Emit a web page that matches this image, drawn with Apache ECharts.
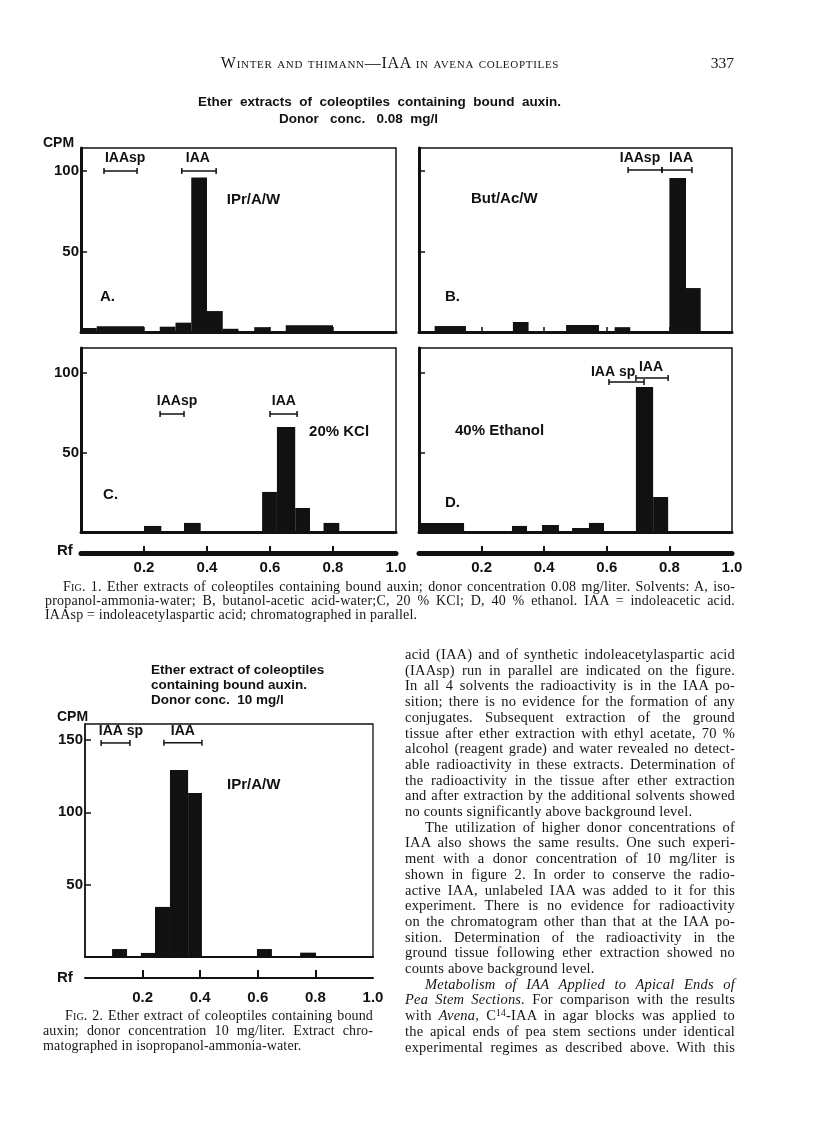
<!DOCTYPE html>
<html><head><meta charset="utf-8">
<script src="https://cdn.jsdelivr.net/npm/echarts@6/dist/echarts.min.js"></script>
<style>
html,body{margin:0;padding:0;background:#fff;}
#page{position:relative;width:816px;height:1127px;overflow:hidden;background:#fff;}
#chart{position:absolute;left:0;top:0;width:816px;height:1127px;}
.txt{position:absolute;font-family:"Liberation Serif","DejaVu Serif",serif;color:#151515;}
.ln{text-align:justify;text-align-last:justify;}
.ln.end{text-align-last:left;}
.sc{font-variant:small-caps;}
.ind{text-indent:20px;}
sup{font-size:9.5px;line-height:0;vertical-align:4px;}
</style></head><body>
<div id="page">
<div id="chart"></div>

<div class="txt sc" style="left:190px;top:53px;width:400px;text-align:center;font-size:16px;letter-spacing:0.7px;line-height:20px;">Winter and thimann—IAA in avena coleoptiles</div>
<div class="txt" style="left:700px;top:54px;width:34px;text-align:right;font-size:15.5px;line-height:18px;">337</div>

<div class="txt" style="left:45px;top:580px;width:690px;font-size:14px;line-height:14px;letter-spacing:0.2px;">
<div class="ln" style="text-indent:18px;"><span class="sc">Fig.</span> 1. Ether extracts of coleoptiles containing bound auxin; donor concentration 0.08 mg/liter. Solvents: A, iso-</div>
<div class="ln">propanol-ammonia-water; B, butanol-acetic acid-water;C, 20 % KCl; D, 40 % ethanol. IAA = indoleacetic acid.</div>
<div class="ln end">IAAsp = indoleacetylaspartic acid; chromatographed in parallel.</div>
</div>

<div class="txt" style="left:43px;top:1008px;width:330px;font-size:14px;line-height:15px;letter-spacing:0.15px;">
<div class="ln" style="text-indent:22px;"><span class="sc">Fig.</span> 2. Ether extract of coleoptiles containing bound</div>
<div class="ln">auxin; donor concentration 10 mg/liter. Extract chro-</div>
<div class="ln end">matographed in isopropanol-ammonia-water.</div>
</div>

<div class="txt" style="left:405px;top:647px;width:330px;font-size:14.5px;line-height:15.7px;letter-spacing:0.2px;">
<div class="ln">acid (IAA) and of synthetic indoleacetylaspartic acid</div>
<div class="ln">(IAAsp) run in parallel are indicated on the figure.</div>
<div class="ln">In all 4 solvents the radioactivity is in the IAA po-</div>
<div class="ln">sition; there is no evidence for the formation of any</div>
<div class="ln">conjugates. Subsequent extraction of the ground</div>
<div class="ln">tissue after ether extraction with ethyl acetate, 70 %</div>
<div class="ln">alcohol (reagent grade) and water revealed no detect-</div>
<div class="ln">able radioactivity in these extracts. Determination of</div>
<div class="ln">the radioactivity in the tissue after ether extraction</div>
<div class="ln">and after extraction by the additional solvents showed</div>
<div class="ln end">no counts significantly above background level.</div>
<div class="ln ind">The utilization of higher donor concentrations of</div>
<div class="ln">IAA also shows the same results. One such experi-</div>
<div class="ln">ment with a donor concentration of 10 mg/liter is</div>
<div class="ln">shown in figure 2. In order to conserve the radio-</div>
<div class="ln">active IAA, unlabeled IAA was added to it for this</div>
<div class="ln">experiment. There is no evidence for radioactivity</div>
<div class="ln">on the chromatogram other than that at the IAA po-</div>
<div class="ln">sition. Determination of the radioactivity in the</div>
<div class="ln">ground tissue following ether extraction showed no</div>
<div class="ln end">counts above background level.</div>
<div class="ln ind"><i>Metabolism of IAA Applied to Apical Ends of</i></div>
<div class="ln"><i>Pea Stem Sections.</i> For comparison with the results</div>
<div class="ln">with <i>Avena,</i> C<sup>14</sup>-IAA in agar blocks was applied to</div>
<div class="ln">the apical ends of pea stem sections under identical</div>
<div class="ln">experimental regimes as described above. With this</div>
</div>
</div>

<script>
// ---------- data ----------
// tick values
const rfTicks = [0.2, 0.4, 0.6, 0.8];
const rfLabels = [0.2, 0.4, 0.6, 0.8, 1.0];
const cpmTicksFig1 = [50, 100];
const cpmTicksFig2 = [50, 100, 150];

// histogram bars: [Rf start, Rf end, CPM]
const barsA = [[0,0.05,2.5],[0.05,0.2,3.5],[0.25,0.3,3.3],[0.3,0.35,5.8],[0.35,0.4,96],[0.4,0.45,13],[0.45,0.5,2],[0.55,0.6,3],[0.65,0.8,4.2]];
const barsB = [[0.05,0.15,3.7],[0.3,0.35,6.2],[0.47,0.575,4.3],[0.625,0.675,3],[0.8,0.853,95.6],[0.853,0.9,27.3]];
const barsC = [[0.2,0.255,3.8],[0.327,0.38,5.7],[0.575,0.622,25.2],[0.622,0.68,66],[0.68,0.727,15.1],[0.77,0.82,5.7]];
const barsD = [[0,0.144,5.7],[0.297,0.345,3.8],[0.393,0.447,4.4],[0.489,0.543,2.5],[0.543,0.591,5.7],[0.693,0.748,91.2],[0.748,0.796,22]];
const barsFig2 = [[0.094,0.146,5.5],[0.194,0.243,2.8],[0.243,0.295,34.6],[0.295,0.358,129.2],[0.358,0.406,113.3],[0.597,0.649,5.5],[0.747,0.802,3]];

// reference Rf ranges (brackets): [Rf start, Rf end, CPM level]
const rangesA = [[0.073,0.178,100],[0.32,0.429,100]];
const rangesB = [[0.668,0.776,100.6],[0.776,0.872,100.6]];
const rangesC = [[0.251,0.327,74.2],[0.6,0.686,74.2]];
const rangesD = [[0.607,0.719,94.3],[0.693,0.796,96.9]];
const rangesFig2 = [[0.056,0.156,147.9],[0.274,0.406,148]];

// range names: [Rf, CPM, text]
const rangeNamesA = [[0.14,108,'IAAsp'],[0.371,108,'IAA']];
const rangeNamesB = [[0.706,108,'IAAsp'],[0.837,108,'IAA']];
const rangeNamesC = [[0.305,82,'IAAsp'],[0.644,82,'IAA']];
const rangeNamesD = [[0.62,100.6,'IAA sp'],[0.741,103.8,'IAA']];
const rangeNamesFig2 = [[0.125,156,'IAA sp'],[0.34,156,'IAA']];

// panel notes: [Rf, CPM, text]
const notesA = [[0.463,82,'IPr/A/W'],[0.06,21.7,'A.']];
const notesB = [[0.166,82.6,'But/Ac/W'],[0.083,21.7,'B.']];
const notesC = [[0.724,62.9,'20% KCl'],[0.07,23.3,'C.']];
const notesD = [[0.115,63.5,'40% Ethanol'],[0.083,18.2,'D.']];
const notesFig2 = [[0.493,118.9,'IPr/A/W']];

// ---------- styling / layout ----------
const INK = '#111';
const SANS = '"Liberation Sans", Arial, sans-serif';

const panels = [
  {grid:{left:81,top:148,width:315,height:184}, ymax:114.3, bars:barsA, ranges:rangesA, names:rangeNamesA, notes:notesA, yTicks:cpmTicksFig1, yLabels:true, rf:null, base:3, baseTicks:true, yLine:3, border:1.5, labelPad:8},
  {grid:{left:419,top:148,width:313,height:184}, ymax:114.3, bars:barsB, ranges:rangesB, names:rangeNamesB, notes:notesB, yTicks:cpmTicksFig1, yLabels:false, rf:null, base:3, baseTicks:true, yLine:3, border:1.5, labelPad:8},
  {grid:{left:81,top:348,width:315,height:184}, ymax:115.7, bars:barsC, ranges:rangesC, names:rangeNamesC, notes:notesC, yTicks:cpmTicksFig1, yLabels:true, rf:{offset:21,width:5,margin:7,tick:7}, base:3, baseTicks:false, yLine:3, border:1.5, labelPad:8},
  {grid:{left:419,top:348,width:313,height:184}, ymax:115.7, bars:barsD, ranges:rangesD, names:rangeNamesD, notes:notesD, yTicks:cpmTicksFig1, yLabels:false, rf:{offset:21,width:5,margin:7,tick:7}, base:3, baseTicks:false, yLine:3, border:1.5, labelPad:8},
  {grid:{left:85,top:724,width:288,height:233}, ymax:161, bars:barsFig2, ranges:rangesFig2, names:rangeNamesFig2, notes:notesFig2, yTicks:cpmTicksFig2, yLabels:true, rf:{offset:21,width:2,margin:12,tick:8}, base:2, baseTicks:false, yLine:1.5, border:1.3, labelPad:0}
];

const grids = [], xAxes = [], yAxes = [], series = [];

function textSeries(list, xi, yi, align, font){
  return {
    type:'custom', xAxisIndex:xi, yAxisIndex:yi, coordinateSystem:'cartesian2d', silent:true, clip:false,
    data:list.map(d => [d[0], d[1]]), encode:{x:0, y:1},
    renderItem:(params, api) => {
      const p = api.coord([api.value(0), api.value(1)]);
      return {type:'text', x:p[0], y:p[1], style:{text:list[params.dataIndex][2], fill:INK, font:font, align:align, verticalAlign:'middle'}};
    }
  };
}

panels.forEach((pn, gi) => {
  grids.push(Object.assign({show:true, borderColor:INK, borderWidth:pn.border, backgroundColor:'transparent', containLabel:false, outerBoundsMode:'none'}, pn.grid));
  const baseIdx = xAxes.length;
  xAxes.push({
    type:'value', gridIndex:gi, min:0, max:1, position:'bottom',
    axisLine:{show:true, onZero:false, lineStyle:{color:INK, width:pn.base}},
    axisTick: pn.baseTicks ? {show:true, inside:true, length:5, customValues:rfTicks, lineStyle:{color:INK, width:1.5}} : {show:false},
    axisLabel:{show:false}, splitLine:{show:false}
  });
  if (pn.rf) {
    xAxes.push({
      type:'value', gridIndex:gi, min:0, max:1, position:'bottom', offset:pn.rf.offset,
      axisLine:{show:true, onZero:false, lineStyle:{color:INK, width:pn.rf.width}},
      axisTick:{show:true, inside:true, length:pn.rf.tick, customValues:rfTicks, lineStyle:{color:INK, width:2}},
      axisLabel:{show:true, customValues:rfLabels, margin:pn.rf.margin, formatter:v => v.toFixed(1), color:INK, fontSize:15, fontWeight:'bold', fontFamily:SANS},
      splitLine:{show:false}
    });
  }
  yAxes.push({
    type:'value', gridIndex:gi, min:0, max:pn.ymax, position:'left',
    axisLine:{show:true, onZero:false, lineStyle:{color:INK, width:pn.yLine}},
    axisTick:{show:true, inside:true, length:6, customValues:pn.yTicks, lineStyle:{color:INK, width:1.5}},
    axisLabel:{show:pn.yLabels, customValues:pn.yTicks, margin:2, color:INK, fontSize:15, fontWeight:'bold', fontFamily:SANS, padding:[0,0,pn.labelPad,0]},
    splitLine:{show:false}
  });
  // bars
  series.push({
    type:'custom', xAxisIndex:baseIdx, yAxisIndex:gi, coordinateSystem:'cartesian2d', silent:true,
    data:pn.bars, encode:{x:[0,1], y:2},
    renderItem:(params, api) => {
      const p0 = api.coord([api.value(0), api.value(2)]);
      const p1 = api.coord([api.value(1), 0]);
      return {type:'rect', shape:{x:p0[0], y:p0[1], width:p1[0]-p0[0], height:p1[1]-p0[1]}, style:{fill:INK}};
    }
  });
  // reference ranges
  series.push({
    type:'custom', xAxisIndex:baseIdx, yAxisIndex:gi, coordinateSystem:'cartesian2d', silent:true, clip:false,
    data:pn.ranges, encode:{x:[0,1], y:2},
    renderItem:(params, api) => {
      const a = api.coord([api.value(0), api.value(2)]);
      const b = api.coord([api.value(1), api.value(2)]);
      const h = 3, st = {stroke:INK, lineWidth:1.5};
      return {type:'group', children:[
        {type:'line', shape:{x1:a[0], y1:a[1], x2:b[0], y2:b[1]}, style:st},
        {type:'line', shape:{x1:a[0], y1:a[1]-h, x2:a[0], y2:a[1]+h}, style:st},
        {type:'line', shape:{x1:b[0], y1:b[1]-h, x2:b[0], y2:b[1]+h}, style:st}
      ]};
    }
  });
  series.push(textSeries(pn.names, baseIdx, gi, 'center', 'bold 14px ' + SANS));
  series.push(textSeries(pn.notes, baseIdx, gi, 'left', 'bold 15px ' + SANS));
});

const titleFont = 'bold 13.5px ' + SANS;
const graphic = [
  {type:'text', x:198, y:102, style:{text:'Ether  extracts  of  coleoptiles  containing  bound  auxin.', font:titleFont, fill:INK, verticalAlign:'middle'}},
  {type:'text', x:279, y:119, style:{text:'Donor   conc.   0.08  mg/l', font:titleFont, fill:INK, verticalAlign:'middle'}},
  {type:'text', x:43, y:143, style:{text:'CPM', font:'bold 14px ' + SANS, fill:INK, verticalAlign:'middle'}},
  {type:'text', x:57, y:551, style:{text:'Rf', font:'bold 15px ' + SANS, fill:INK, verticalAlign:'middle'}},
  {type:'text', x:151, y:670, style:{text:'Ether extract of coleoptiles', font:titleFont, fill:INK, verticalAlign:'middle'}},
  {type:'text', x:151, y:685, style:{text:'containing bound auxin.', font:titleFont, fill:INK, verticalAlign:'middle'}},
  {type:'text', x:151, y:700, style:{text:'Donor conc.  10 mg/l', font:titleFont, fill:INK, verticalAlign:'middle'}},
  {type:'text', x:57, y:717, style:{text:'CPM', font:'bold 14px ' + SANS, fill:INK, verticalAlign:'middle'}},
  {type:'text', x:57, y:978, style:{text:'Rf', font:'bold 15px ' + SANS, fill:INK, verticalAlign:'middle'}}
];

const chart = echarts.init(document.getElementById('chart'), null, {renderer:'canvas'});
chart.setOption({
  animation:false,
  backgroundColor:'#fff',
  grid:grids, xAxis:xAxes, yAxis:yAxes, series:series, graphic:graphic
});
</script>
</body></html>
